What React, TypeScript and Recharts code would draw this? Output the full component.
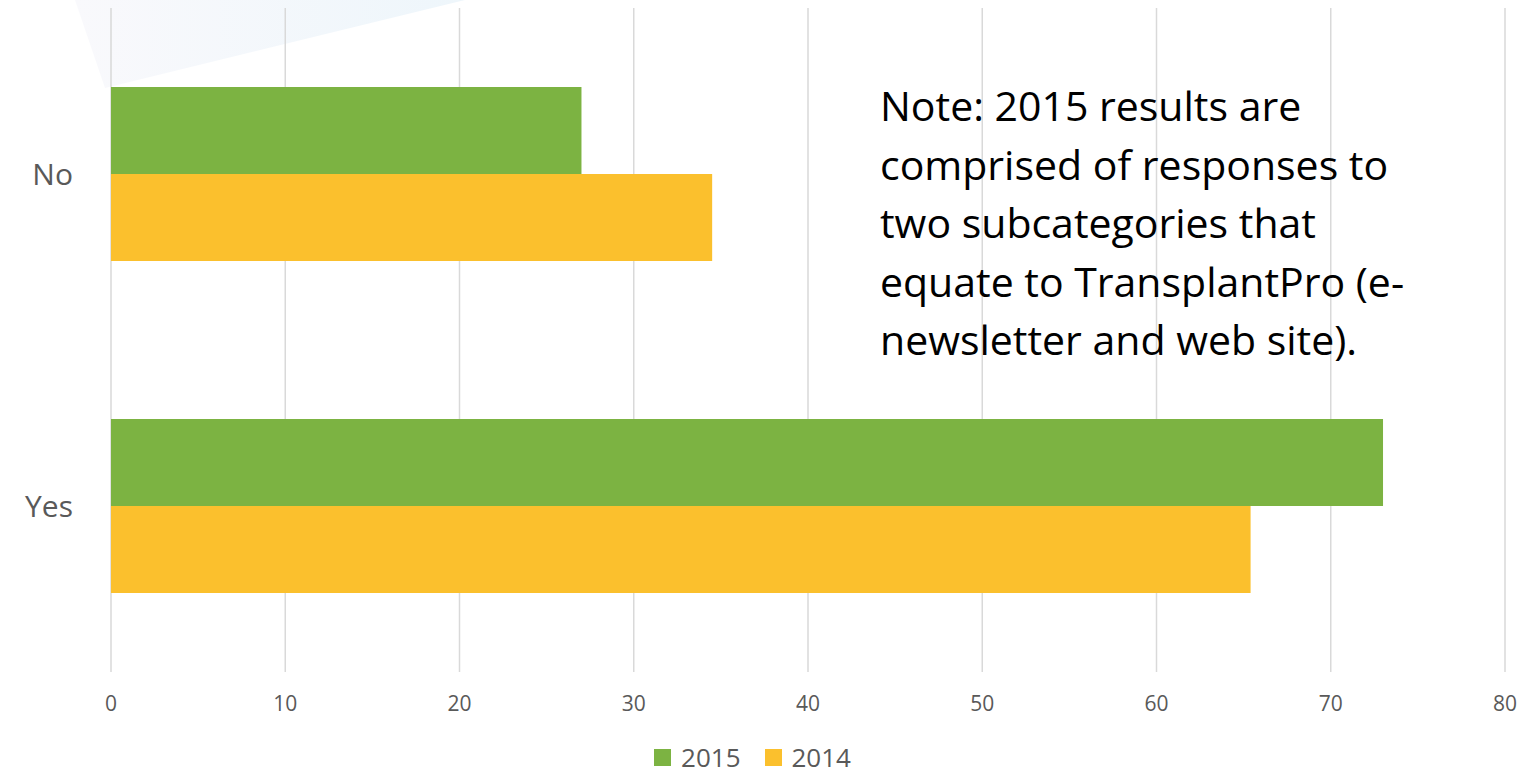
import React from "react";
import {
  BarChart,
  Bar,
  XAxis,
  YAxis,
  CartesianGrid,
  Legend,
} from "recharts";

const categories = ["No", "Yes"];
const values2015 = [27, 73];
const values2014 = [34.5, 65.4];
const xTicks = [0, 10, 20, 30, 40, 50, 60, 70, 80];

const data = categories.map((answer, i) => ({
  answer,
  y2015: values2015[i],
  y2014: values2014[i],
}));

const FONT = "'Open Sans', 'Noto Sans', sans-serif";
const GREEN = "#7cb342";
const YELLOW = "#fbc02d";

function LegendBox() {
  const items = [
    { label: "2015", color: GREEN },
    { label: "2014", color: YELLOW },
  ];
  return (
    <div
      style={{
        display: "flex",
        justifyContent: "center",
        alignItems: "center",
        gap: 24,
        paddingTop: 7,
        fontFamily: FONT,
        fontSize: 26,
        lineHeight: "36px",
        color: "#595959",
      }}
    >
      {items.map((it) => (
        <div key={it.label} style={{ display: "flex", alignItems: "center" }}>
          <span
            style={{
              width: 17,
              height: 17,
              background: it.color,
              display: "inline-block",
              marginRight: 10,
            }}
          />
          {it.label}
        </div>
      ))}
    </div>
  );
}

export default function App() {
  return (
    <div
      style={{
        position: "absolute",
        left: 0,
        top: 0,
        width: 1524,
        height: 775,
        background: "#fff",
        overflow: "hidden",
      }}
    >
      <svg
        width={1524}
        height={775}
        style={{ position: "absolute", left: 0, top: 0 }}
      >
        <defs>
          <linearGradient id="bgTri" x1="0" y1="0" x2="1" y2="0">
            <stop offset="0%" stopColor="#f9f9fc" />
            <stop offset="100%" stopColor="#eef6fb" />
          </linearGradient>
        </defs>
        <polygon points="75,0 465,0 105,88" fill="url(#bgTri)" />
      </svg>
      <div style={{ position: "absolute", left: 0, top: 0 }}>
        <BarChart
          layout="vertical"
          width={1524}
          height={775}
          data={data}
          margin={{ top: 8, right: 19, left: 0, bottom: 0 }}
          barGap={0}
          barSize={87}
        >
          <CartesianGrid
            horizontal={false}
            stroke="#d9d9d9"
            strokeWidth={1.5}
          />
          <XAxis
            type="number"
            domain={[0, 80]}
            ticks={xTicks}
            axisLine={false}
            tickLine={false}
            tickSize={0}
            tickMargin={24}
            height={60}
            tick={{ fill: "#595959", fontSize: 21, fontFamily: FONT }}
          />
          <YAxis
            type="category"
            dataKey="answer"
            width={111}
            axisLine={false}
            tickLine={false}
            tickSize={0}
            tickMargin={38}
            tick={{ fill: "#595959", fontSize: 30, fontFamily: FONT }}
          />
          <Legend
            verticalAlign="bottom"
            height={43}
            content={() => <LegendBox />}
          />
          <Bar dataKey="y2015" name="2015" fill={GREEN} isAnimationActive={false} />
          <Bar dataKey="y2014" name="2014" fill={YELLOW} isAnimationActive={false} />
        </BarChart>
      </div>
      <div
        style={{
          position: "absolute",
          left: 880,
          top: 76,
          width: 560,
          fontFamily: FONT,
          fontSize: 41,
          lineHeight: "58.5px",
          color: "#000",
        }}
      >
        Note: 2015 results are
        <br />
        comprised of responses to
        <br />
        two subcategories that
        <br />
        equate to TransplantPro (e-
        <br />
        newsletter and web site).
      </div>
    </div>
  );
}
